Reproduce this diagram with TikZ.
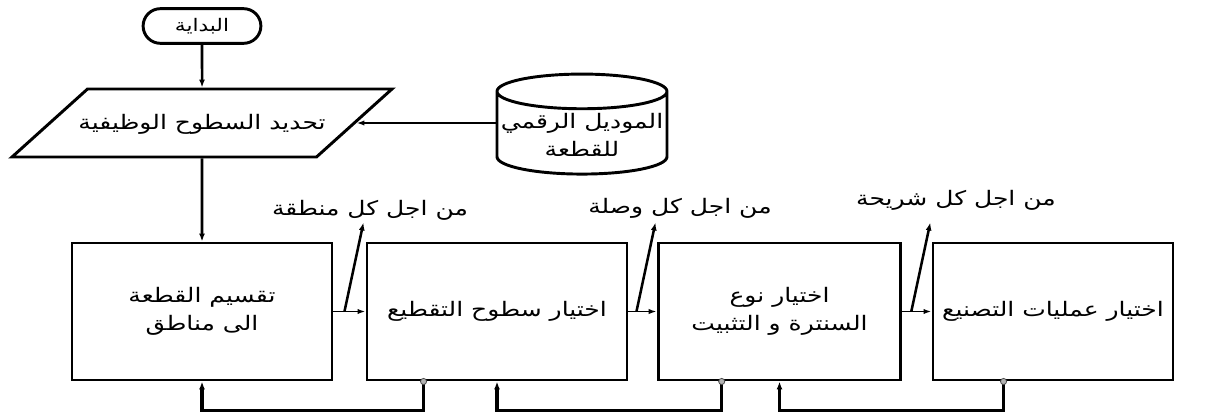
\documentclass[tikz,border=0pt]{standalone}
\usepackage{fontspec}
\newfontfamily\arabicfont[Script=Arabic,FakeStretch=1.25]{DejaVu Sans}
\TeXXeTstate=1
\usetikzlibrary{arrows.meta,positioning,calc,shapes.geometric,shapes.misc}
\newcommand{\rl}[1]{\beginR #1\endR}

\begin{document}
\begin{tikzpicture}[x=0.75pt,y=-0.75pt,
 every node/.style={font=\arabicfont\fontsize{15}{21}\selectfont,align=center},
 blk/.style={draw,line width=2.2pt,minimum height=102.75pt,inner sep=2pt},
 arr/.style={line width=1.9pt,-{Latex[length=6pt,width=4.5pt]}},
 link/.style={line width=1.3pt,-{Latex[length=6pt,width=4pt]}},
 fb/.style={line width=2.5pt,-{Latex[length=6pt,width=4.5pt]}},
 tap/.style={fill=gray!60,draw=black!70,line width=0.6pt}]
\useasboundingbox (0,0) rectangle (1211,412);
% upper part
\node[draw,rounded rectangle,line width=2.2pt,minimum width=95pt,minimum height=26pt,
 font=\arabicfont\fontsize{13}{16}\selectfont] (start) at (202,26) {\rl{البداية}};
\node[draw,trapezium,trapezium left angle=42,trapezium right angle=138,trapezium stretches body,
 line width=2.2pt,minimum width=285pt,inner ysep=0pt] (funcsurf) at (202,123)
 {\raisebox{0pt}[30.5pt][20.5pt]{\makebox[120pt]{\rl{تحديد السطوح الوظيفية}}}};
\node[draw,cylinder,shape border rotate=90,aspect=0.21,line width=2.2pt,minimum width=127.5pt,minimum height=75pt,inner sep=1pt]
 (model) at (582,135) {\rl{الموديل الرقمي}\\\rl{للقطعة}};
% lower row
\node[blk,minimum width=195pt] (zones) at (202,311.5) {\rl{تقسيم القطعة}\\\rl{الى مناطق}};
\node[blk,minimum width=195pt] (cutsurf) at (497,311.5) {\rl{اختيار سطوح التقطيع}};
\node[blk,minimum width=182pt] (fixing) at (779.5,311.5) {\rl{اختيار نوع}\\\rl{السنترة و التثبيت}};
\node[blk,minimum width=180pt] (machining) at (1053,311.5) {\rl{اختيار عمليات التصنيع}};
\draw[arr] (start) -- (funcsurf);
\draw[link] (model.west |- funcsurf.east) -- (funcsurf.east);
\draw[arr] (funcsurf) -- (zones);
\draw[link] (zones) -- (cutsurf);
\draw[link] (cutsurf) -- (fixing);
\draw[link] (fixing) -- (machining);
% loops
\coordinate (b1) at ($(zones.east)+(11,0)$);
\coordinate (b2) at ($(cutsurf.east)+(8,0)$);
\coordinate (b3) at ($(fixing.east)+(9,0)$);
\foreach \b in {b1,b2,b3}{
 \draw[arr] (\b) -- ++(19,-89) coordinate (\b-top);}
\node (l1) at (370,210) {\rl{من اجل كل منطقة}};
\node (l2) at (680,208) {\rl{من اجل كل وصلة}};
\node (l3) at (956,200) {\rl{من اجل كل شريحة}};
% feedback
\coordinate (t1) at ($(cutsurf.south west)+(58,0)$);
\coordinate (t2) at ($(fixing.south west)+(65,0)$);
\coordinate (t3) at ($(machining.south west)+(72,0)$);
\draw[fb] (t1) -- ++(0,29) -| (zones.south);
\draw[fb] (t2) -- ++(0,29) -| (cutsurf.south);
\draw[fb] (t3) -- ++(0,29) -| (fixing.south);
\foreach \t in {t1,t2,t3}{\filldraw[tap] (\t) circle (2.3pt);}
\end{tikzpicture}
\end{document}
